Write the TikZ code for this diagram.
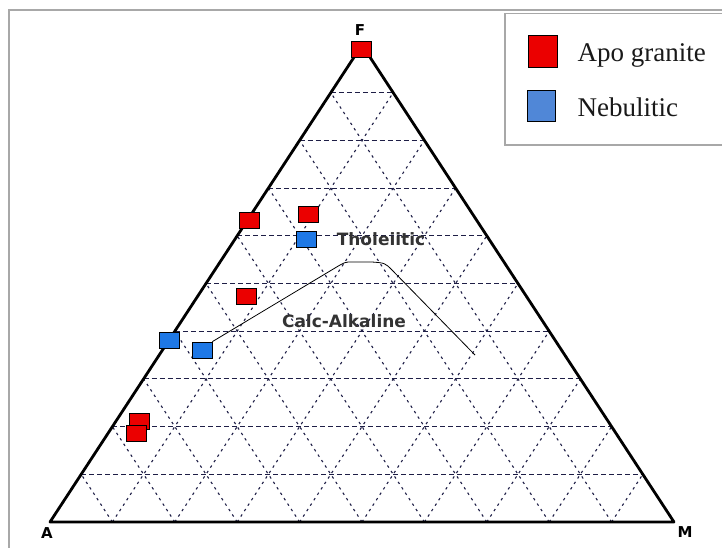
\documentclass[tikz,border=0pt]{standalone}
\usepackage{fontspec}
\setmainfont{Liberation Serif}
\newfontfamily\labelfont{DejaVu Sans}
\usetikzlibrary{calc,positioning}

\definecolor{apored}{RGB}{235,0,0}
\definecolor{nebblue}{RGB}{30,120,230}
\definecolor{legblue}{RGB}{80,135,215}
\definecolor{gridblue}{RGB}{30,30,70}
\definecolor{framegray}{RGB}{168,168,168}

\begin{document}
\begin{tikzpicture}[x=1pt,y=-1pt,
    apo/.style={draw=black,line width=.8pt,fill=apored,minimum width=20pt,minimum height=16pt,inner sep=0pt},
    neb/.style={apo,fill=nebblue},
    corner/.style={font=\labelfont\bfseries\fontsize{15}{15}\selectfont,inner sep=0pt},
    field/.style={font=\labelfont\bfseries\fontsize{17}{17}\selectfont,text=black!80,inner sep=0pt},
    keytext/.style={font=\fontsize{27}{27}\selectfont,text=black!90,inner sep=0pt,anchor=base west},
    hgrid/.style={gridblue,line width=1.1pt,dash pattern=on 5pt off 3pt},
    dgrid/.style={gridblue,line width=1.1pt,dash pattern=on 2.5pt off 4pt}]

\useasboundingbox (0,0) rectangle (722,548);
\clip (0,0) rectangle (722,548);

% frame of the figure
\draw[framegray,line width=2pt] (9,548) -- (9,10.5) -- (722,10.5);

% corners of the AFM triangle
\coordinate (A) at (50,522);
\coordinate (M) at (674,522);
\coordinate (F) at (362,45);

% grid, ten steps each way
\foreach \i in {1,...,9}{
  \draw[hgrid] ($(A)!{\i/10}!(F)$) -- ($(M)!{\i/10}!(F)$);
  \draw[dgrid] ($(A)!{\i/10}!(M)$) -- ($(F)!{\i/10}!(M)$);
  \draw[dgrid] ($(M)!{\i/10}!(A)$) -- ($(F)!{\i/10}!(A)$);
}

% outline
\draw[line width=2.8pt,line join=round] (A) -- (F) -- (M) -- cycle;

\node[corner] (lA) at (47,533) {A};
\node[corner] (lF) at (360,30) {F};
\node[corner] (lM) at (685,532) {M};

% samples
\node[apo] (apoF) at (361,49) {};
\node[apo] (apo1) at (249,220) {};
\node[apo] (apo2) at (308,214) {};
\node[neb] (neb1) at (306,239) {};
\node[apo] (apo3) at (246,296) {};
\node[neb] (neb2) at (169,340) {};
\node[neb] (neb3) at (202,350) {};
\node[apo] (apo4) at (139,421) {};
\node[apo] (apo5) at (136,433) {};

% dividing line
\draw[line width=.8pt] (neb3.north east) -- (335,268) .. controls (345,262) .. (352,262)
  -- (372,262) .. controls (385,263) .. (392,270) -- (475,355);

\node[field] (thol) at (381,239) {Tholeiitic};
\node[field] (calc) at (344,321) {Calc-Alkaline};

% legend
\draw[framegray,line width=1.5pt,fill=white] (505,13.5) rectangle (730,145);
\node[apo,minimum width=29pt,minimum height=32pt] (keyapo) at (542.5,51) {};
\node[neb,fill=legblue,minimum width=28pt,minimum height=31pt] (keyneb) at (541,105.5) {};
\node[keytext] (txtapo) at ([xshift=20pt,yshift=-11pt]keyapo.east) {Apo granite};
\node[keytext] (txtneb) at ([xshift=22pt,yshift=-11.5pt]keyneb.east) {Nebulitic};

\end{tikzpicture}
\end{document}
